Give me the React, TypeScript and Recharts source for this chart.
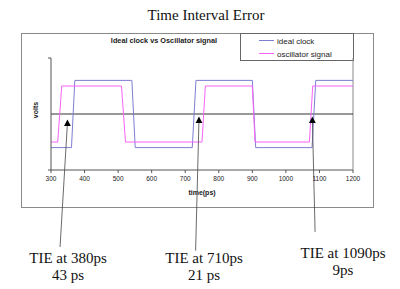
import {
  LineChart,
  Line,
  XAxis,
  YAxis,
  ReferenceLine,
  ReferenceDot,
} from 'recharts';

// ideal clock (blue) corner points
const idealTimes = [300, 361, 371, 541, 551, 721, 732, 900, 910, 1078, 1089, 1200];
const idealVolts = [-1.2, -1.2, 1.2, 1.2, -1.2, -1.2, 1.2, 1.2, -1.2, -1.2, 1.2, 1.2];

// oscillator signal (pink) corner points
const oscTimes = [300, 320, 332, 510, 522, 750, 760, 900, 908, 1070, 1080, 1200];
const oscVolts = [-1, -1, 1, 1, -1, -1, 1, 1, -1, -1, 1, 1];

const xTicks = [300, 400, 500, 600, 700, 800, 900, 1000, 1100, 1200];

// TIE markers: arrow head and where the pointer line ends
const markerTimes = [349, 741, 1079];
const markerVolts = [-0.31, -0.21, -0.21];
const pointerEndTimes = [327, 731, 1087];
const pointerEndVolts = [-4.75, -4.88, -4.21];
const tieLines = ['TIE at 380ps', 'TIE at 710ps', 'TIE at 1090ps'];
const tieValues = ['43 ps', '21 ps', '9ps'];
const tieLabelX = [68, 204, 343];
const tieLabelY = [263, 263, 258];

const idealData = idealTimes.map((t, i) => ({ t, v: idealVolts[i] }));
const oscData = oscTimes.map((t, i) => ({ t, v: oscVolts[i] }));

const BLUE = '#7e7ed2';
const PINK = '#fa62fa';
const serif = '"Liberation Serif", "Times New Roman", serif';
const sans = '"Liberation Sans", Arial, sans-serif';

const Triangle = (props: any) => {
  const { cx, cy } = props;
  return (
    <polygon
      points={`${cx},${cy - 3.3} ${cx - 3.4},${cy + 3.2} ${cx + 3.4},${cy + 3.2}`}
      fill="#000"
    />
  );
};

export default function App() {
  return (
    <div style={{ position: 'absolute', left: 0, top: 0, width: 400, height: 289, background: '#fff' }}>
      <svg width={400} height={289} style={{ position: 'absolute', left: 0, top: 0 }}>
        <rect x={21.5} y={33.5} width={352} height={174} fill="none" stroke="#8a8a8a" />
        <text x={206} y={20} textAnchor="middle" fontFamily={serif} fontSize={15} fill="#111">
          Time Interval Error
        </text>
        <text x={164} y={43} textAnchor="middle" fontFamily={sans} fontWeight="bold" fontSize={7.3} fill="#222">
          Ideal clock vs Oscillator signal
        </text>
        <text x={202} y={195} textAnchor="middle" fontFamily={sans} fontWeight="bold" fontSize={7} fill="#222">
          time(ps)
        </text>
        <text
          x={36}
          y={110}
          textAnchor="middle"
          dominantBaseline="middle"
          transform="rotate(-90 36 110)"
          fontFamily={sans}
          fontWeight="bold"
          fontSize={7}
          fill="#222"
        >
          volts
        </text>
        <rect x={240.5} y={33.5} width={113} height={27} fill="#fff" stroke="#666" />
        <line x1={259} x2={274} y1={40.5} y2={40.5} stroke={BLUE} strokeWidth={1} />
        <text x={277} y={43.5} fontFamily={sans} fontSize={8} fill="#222">ideal clock</text>
        <line x1={259} x2={274} y1={53.5} y2={53.5} stroke={PINK} strokeWidth={1} />
        <text x={277} y={56.5} fontFamily={sans} fontSize={8} fill="#222">oscillator signal</text>
        {tieLines.map((txt, i) => (
          <g key={txt}>
            <text x={tieLabelX[i]} y={tieLabelY[i]} textAnchor="middle" fontFamily={serif} fontSize={15} fill="#111">
              {txt}
            </text>
            <text x={tieLabelX[i]} y={tieLabelY[i] + 17} textAnchor="middle" fontFamily={serif} fontSize={15} fill="#111">
              {tieValues[i]}
            </text>
          </g>
        ))}
      </svg>
      <div style={{ position: 'absolute', left: 0, top: 0 }}>
        <LineChart
          width={400}
          height={289}
          margin={{ top: 58, right: 47, bottom: 99, left: 41 }}
        >
          <XAxis
            type="number"
            dataKey="t"
            domain={[300, 1200]}
            ticks={xTicks}
            allowDataOverflow
            height={20}
            tickSize={3}
            tickMargin={3}
            stroke="#555"
            tick={{ fontSize: 6.5, fill: '#222', fontFamily: sans }}
          />
          <YAxis
            type="number"
            domain={[-2, 2]}
            ticks={[-2, 2]}
            width={10}
            tickSize={3}
            stroke="#555"
            tickFormatter={() => ''}
          />
          <ReferenceLine x={1200} stroke="#8a8a8a" />
          <ReferenceLine y={0} stroke="#333" />
          <Line
            data={idealData}
            dataKey="v"
            type="linear"
            stroke={BLUE}
            strokeWidth={1}
            dot={false}
            isAnimationActive={false}
          />
          <Line
            data={oscData}
            dataKey="v"
            type="linear"
            stroke={PINK}
            strokeWidth={1}
            dot={false}
            isAnimationActive={false}
          />
          {markerTimes.map((t, i) => (
            <ReferenceLine
              key={`ptr-${i}`}
              segment={[
                { x: t, y: markerVolts[i] },
                { x: pointerEndTimes[i], y: pointerEndVolts[i] },
              ]}
              stroke="#444"
              strokeWidth={0.8}
              ifOverflow="visible"
            />
          ))}
          {markerTimes.map((t, i) => (
            <ReferenceDot
              key={`dot-${i}`}
              x={t}
              y={markerVolts[i]}
              shape={Triangle}
              ifOverflow="visible"
            />
          ))}
        </LineChart>
      </div>
    </div>
  );
}
